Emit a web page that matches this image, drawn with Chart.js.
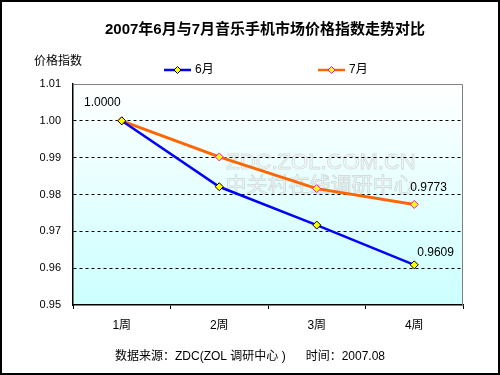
<!DOCTYPE html>
<html><head><meta charset="utf-8">
<script src="https://cdn.jsdelivr.net/npm/chart.js@4/dist/chart.umd.min.js"></script>
<style>html,body{margin:0;padding:0;background:#fff}#wrap{width:500px;height:375px}</style>
</head><body><div id="wrap"><canvas id="c" width="500" height="375"></canvas></div>
<script>
const categories = ['1周', '2周', '3周', '4周'];
const seriesNames = ['6月', '7月'];
const june = [1.0000, 0.9821, 0.9717, 0.9609];
const july = [1.0000, 0.9902, 0.9816, 0.9773];
const yTicks = [0.95, 0.96, 0.97, 0.98, 0.99, 1.00, 1.01];
const title = '2007年6月与7月音乐手机市场价格指数走势对比';
const yTitle = '价格指数';
const footer = '数据来源：ZDC(ZOL 调研中心 )      时间：2007.08';

const FONT = '"Liberation Sans", Arial, "Noto Sans CJK SC", sans-serif';

const decor = {
  id: 'decor',
  beforeDraw(chart) {
    const {ctx, chartArea: a} = chart;
    ctx.save();
    const g = ctx.createLinearGradient(0, a.top, 0, a.bottom);
    g.addColorStop(0, '#ffffff');
    g.addColorStop(1, '#ccffff');
    ctx.fillStyle = g;
    ctx.fillRect(a.left, a.top, a.right - a.left, a.bottom - a.top);
    // watermark
    ctx.font = '22px ' + FONT;
    ctx.textAlign = 'center';
    ctx.textBaseline = 'middle';
    ctx.lineWidth = 1;
    ctx.strokeStyle = 'rgba(160,160,160,0.35)';
    ctx.fillStyle = 'rgba(255,255,255,0.6)';
    ctx.fillText('ZDC.ZOL.COM.CN', 321, 163);
    ctx.strokeText('ZDC.ZOL.COM.CN', 321, 163);
    ctx.font = '21px ' + FONT;
    ctx.fillText('中关村在线调研中心', 320, 186);
    ctx.strokeText('中关村在线调研中心', 320, 186);
    ctx.restore();
  },
  afterDatasetsDraw(chart) {
    const {ctx, chartArea: a} = chart;
    ctx.save();
    ctx.strokeStyle = '#808080';
    ctx.lineWidth = 1;
    ctx.beginPath();
    ctx.moveTo(a.left, a.top + 0.5);
    ctx.lineTo(a.right - 0.5, a.top + 0.5);
    ctx.lineTo(a.right - 0.5, a.bottom);
    ctx.stroke();
    ctx.strokeStyle = '#000';
    ctx.lineWidth = 2;
    ctx.strokeRect(1, 1, 498, 373);
    ctx.fillStyle = '#000';
    ctx.font = 'bold 15px ' + FONT;
    ctx.textAlign = 'center';
    ctx.textBaseline = 'middle';
    ctx.fillText(title, 265, 30, 336);
    ctx.font = '12px ' + FONT;
    ctx.textAlign = 'left';
    ctx.fillText(yTitle, 34, 62);
    ctx.fillText(footer, 115, 357);
    const cols = [['#0000ff', '#000000'], ['#ff6600', '#ff00ff']];
    const lx = [164, 318];
    seriesNames.forEach((n, i) => {
      const x = lx[i], y = 70;
      ctx.strokeStyle = cols[i][0];
      ctx.lineWidth = 2.5;
      ctx.beginPath(); ctx.moveTo(x, y); ctx.lineTo(x + 27, y); ctx.stroke();
      ctx.fillStyle = '#ffff00';
      ctx.strokeStyle = cols[i][1];
      ctx.lineWidth = 1;
      ctx.beginPath();
      ctx.moveTo(x + 13.5, y - 3.5); ctx.lineTo(x + 17, y); ctx.lineTo(x + 13.5, y + 3.5); ctx.lineTo(x + 10, y);
      ctx.closePath(); ctx.fill(); ctx.stroke();
      ctx.fillStyle = '#000';
      ctx.font = '12px ' + FONT;
      ctx.textAlign = 'left';
      ctx.fillText(n, x + 31, y);
    });
    ctx.font = '12px ' + FONT;
    const m0 = chart.getDatasetMeta(0).data, m1 = chart.getDatasetMeta(1).data;
    ctx.textAlign = 'left';
    ctx.fillText(june[0].toFixed(4), 84, 103);
    ctx.fillText(july[3].toFixed(4), m1[3].x - 4, m1[3].y - 17);
    ctx.fillText(june[3].toFixed(4), m0[3].x + 3, m0[3].y - 12);
    ctx.restore();
  }
};

new Chart(document.getElementById('c'), {
  type: 'line',
  data: {
    labels: categories,
    datasets: [
      {label: seriesNames[0], data: june, borderColor: '#0000ff', borderWidth: 2.5,
       pointStyle: 'rectRot', pointRadius: 4, pointBackgroundColor: '#ffff00', pointBorderColor: '#000000', pointBorderWidth: 1, tension: 0},
      {label: seriesNames[1], data: july, borderColor: '#ff6600', borderWidth: 3,
       pointStyle: 'rectRot', pointRadius: 4, pointBackgroundColor: '#ffff00', pointBorderColor: '#ff00ff', pointBorderWidth: 1, tension: 0}
    ]
  },
  options: {
    responsive: false,
    animation: false,
    devicePixelRatio: 1,
    layout: {padding: {left: 0, top: 84, right: 37, bottom: 0}},
    plugins: {legend: {display: false}, title: {display: false}, tooltip: {enabled: false}},
    scales: {
      x: {
        offset: true,
        afterFit: s => { s.height = 70; },
        grid: {drawOnChartArea: false, drawTicks: true, tickLength: 4, offset: true, color: '#000'},
        border: {color: '#000', width: 1.5},
        ticks: {color: '#000', font: {family: FONT, size: 12}, padding: 9}
      },
      y: {
        min: yTicks[0], max: yTicks[yTicks.length - 1],
        afterFit: s => { s.width = 73; },
        afterBuildTicks: s => { s.ticks = yTicks.map(v => ({value: v})); },
        grid: {drawTicks: false,
               color: c => (c.tick && (Math.abs(c.tick.value - 0.95) < 1e-6 || Math.abs(c.tick.value - 1.01) < 1e-6)) ? 'rgba(0,0,0,0)' : '#000'},
        border: {color: '#000', width: 1.5, dash: [3, 3]},
        ticks: {color: '#000', font: {family: FONT, size: 11}, padding: 12, callback: v => Number(v).toFixed(2)}
      }
    }
  },
  plugins: [decor]
});
</script></body></html>
